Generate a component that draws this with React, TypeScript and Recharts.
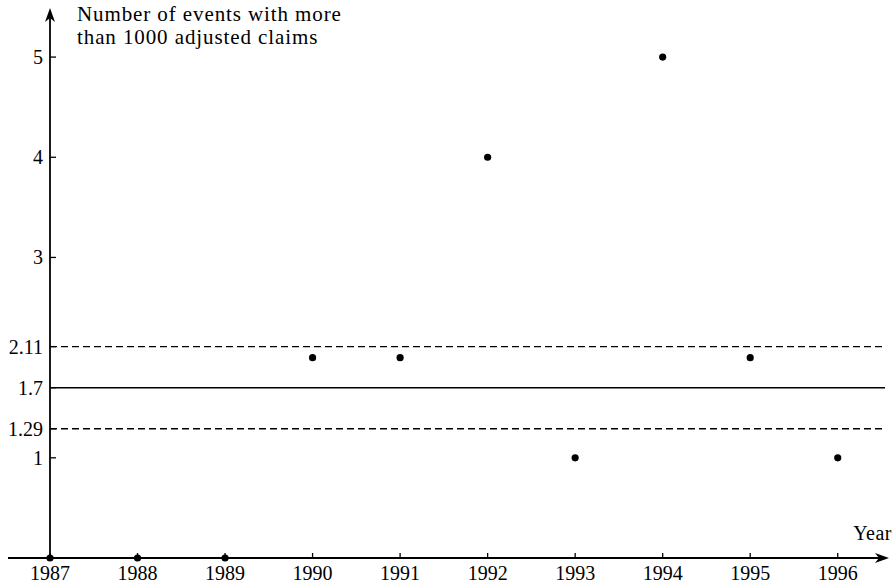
import React from "react";
import {
  ComposedChart,
  Scatter,
  XAxis,
  YAxis,
  ReferenceLine,
} from "recharts";

const years = [1987, 1988, 1989, 1990, 1991, 1992, 1993, 1994, 1995, 1996];
const eventCounts = [0, 0, 0, 2, 2, 4, 1, 5, 2, 1];
const yTicks = [1, 1.29, 1.7, 2.11, 3, 4, 5];
const yTickLabels = ["1", "1.29", "1.7", "2.11", "3", "4", "5"];
const meanLevel = 1.7;
const upperBand = 2.11;
const lowerBand = 1.29;
const titleLines = ["Number of events with more", "than 1000 adjusted claims"];
const xTitle = "Year";

const FONT = "'Liberation Serif', 'DejaVu Serif', serif";

const points = years.map((year, i) => ({ year, count: eventCounts[i] }));

const XTick = (props: any) => {
  const { x, y, payload } = props;
  return (
    <g>
      <line x1={x} x2={x} y1={y} y2={y - 5} stroke="#000" strokeWidth={1.3} />
      <text x={x} y={y + 22} textAnchor="middle" fontFamily={FONT} fontSize={20} fill="#000">
        {payload.value}
      </text>
    </g>
  );
};

const YTick = (props: any) => {
  const { x, y, payload } = props;
  const idx = yTicks.indexOf(payload.value);
  return (
    <g>
      <line x1={x} x2={x + 6} y1={y} y2={y} stroke="#000" strokeWidth={1.3} />
      <text x={x - 7} y={y + 7} textAnchor="end" fontFamily={FONT} fontSize={20} fill="#000">
        {idx >= 0 ? yTickLabels[idx] : payload.value}
      </text>
    </g>
  );
};

const Dot = (props: any) => <circle cx={props.cx} cy={props.cy} r={3.6} fill="#000" />;

export default function App() {
  return (
    <div style={{ position: "absolute", left: 0, top: 0, background: "#fff" }}>
      <ComposedChart
        width={895}
        height={586}
        margin={{ top: 12, right: 10, bottom: 0, left: 8 }}
      >
        <defs>
          <marker
            id="arrowHead"
            viewBox="0 0 14 10"
            refX={10}
            refY={5}
            markerWidth={14}
            markerHeight={10}
            markerUnits="userSpaceOnUse"
            orient="auto"
          >
            <path d="M0,0 L14,5 L0,10 L4,5 z" fill="#000" />
          </marker>
        </defs>
        <XAxis
          dataKey="year"
          type="number"
          domain={[1987, 1996.54]}
          ticks={years}
          axisLine={false}
          tickLine={false}
          tickSize={0}
          tickMargin={0}
          height={28}
          tick={<XTick />}
        />
        <YAxis
          dataKey="count"
          type="number"
          domain={[0, 5.45]}
          ticks={yTicks}
          axisLine={false}
          tickLine={false}
          tickSize={0}
          tickMargin={0}
          width={42}
          tick={<YTick />}
        />
        <ReferenceLine y={upperBand} stroke="#000" strokeWidth={1.3} strokeDasharray="7 4" />
        <ReferenceLine y={meanLevel} stroke="#000" strokeWidth={1.4} />
        <ReferenceLine y={lowerBand} stroke="#000" strokeWidth={1.3} strokeDasharray="7 4" />
        <ReferenceLine
          segment={[
            { x: 1986.52, y: 0 },
            { x: 1996.54, y: 0 },
          ]}
          ifOverflow="visible"
          stroke="#000"
          strokeWidth={1.8}
          markerEnd="url(#arrowHead)"
        />
        <ReferenceLine
          segment={[
            { x: 1987, y: 0 },
            { x: 1987, y: 5.45 },
          ]}
          ifOverflow="visible"
          stroke="#000"
          strokeWidth={1.8}
          markerEnd="url(#arrowHead)"
        />
        <Scatter data={points} dataKey="count" shape={<Dot />} isAnimationActive={false} />
        <text x={77} y={21} fontFamily={FONT} fontSize={21} letterSpacing={0.9} fill="#000">
          {titleLines[0]}
        </text>
        <text x={77} y={44} fontFamily={FONT} fontSize={21} letterSpacing={0.9} fill="#000">
          {titleLines[1]}
        </text>
        <text x={892} y={540} textAnchor="end" fontFamily={FONT} fontSize={20} letterSpacing={0.5} fill="#000">
          {xTitle}
        </text>
      </ComposedChart>
    </div>
  );
}
